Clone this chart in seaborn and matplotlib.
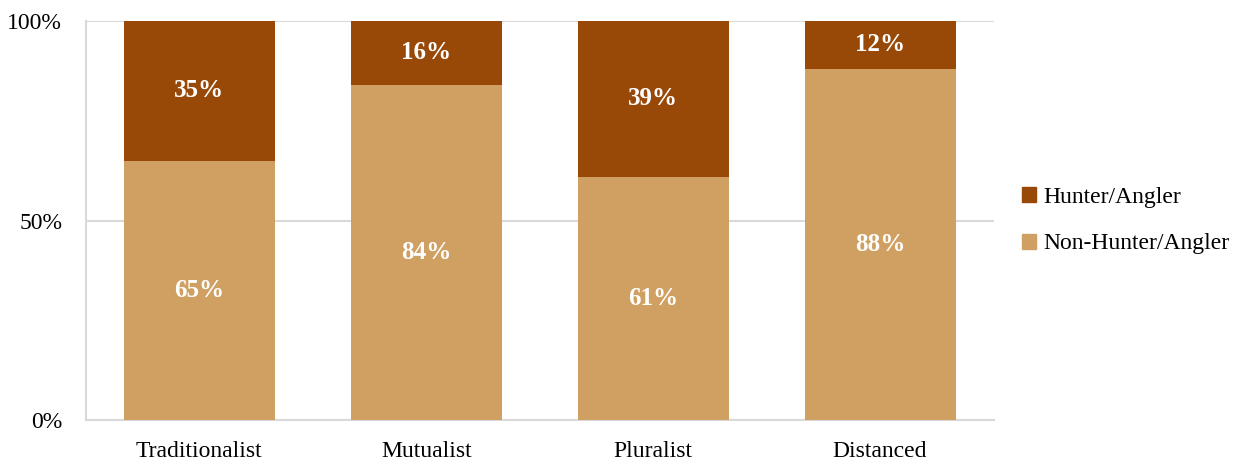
import pandas as pd
import seaborn as sns
from matplotlib import pyplot as plt
from matplotlib.patches import Patch

# chart values
groups = ['Traditionalist', 'Mutualist', 'Pluralist', 'Distanced']
hunter = [35, 16, 39, 12]
non_hunter = [65, 84, 61, 88]

dark = '#984807'
light = '#D09F62'
grid = '#D9D9D9'

df = pd.DataFrame({'group': groups, 'hunter': hunter, 'non_hunter': non_hunter})
df['total'] = df['hunter'] + df['non_hunter']

sns.set_style('white')
plt.rcParams['font.family'] = ['Liberation Serif', 'DejaVu Serif']
plt.rcParams['text.color'] = 'black'

fig = plt.figure(figsize=(12.45, 4.63), dpi=100)
ax = fig.add_axes([0.069, 0.0929, 0.729, 0.8617])

# stacked look: full bar in dark, non-hunter part over it in light
sns.barplot(data=df, x='group', y='total', color=dark, width=0.665,
            saturation=1, linewidth=0, ax=ax, zorder=2)
sns.barplot(data=df, x='group', y='non_hunter', color=light, width=0.665,
            saturation=1, linewidth=0, ax=ax, zorder=3)

# labels
for i, row in df.iterrows():
    ax.text(i, row['non_hunter'] / 2, f"{row['non_hunter']}%", ha='center', va='center',
            color='white', fontsize=18, fontweight='bold', zorder=4)
    ax.text(i, row['non_hunter'] + row['hunter'] / 2, f"{row['hunter']}%", ha='center',
            va='center', color='white', fontsize=18, fontweight='bold', zorder=4)

ax.set_xlim(-0.5, 3.5)
ax.set_ylim(0, 100)
ax.set_yticks([0, 50, 100])
ax.set_yticklabels(['0%', '50%', '100%'])
ax.yaxis.grid(True, color=grid, linewidth=1.5, zorder=0)
ax.set_axisbelow(True)
ax.set_xlabel('')
ax.set_ylabel('')
ax.tick_params(axis='both', length=0, labelsize=17, colors='black')
ax.tick_params(axis='y', pad=17)
ax.tick_params(axis='x', pad=15)

for s in ['top', 'right']:
    ax.spines[s].set_visible(False)
for s in ['left', 'bottom']:
    ax.spines[s].set_color(grid)
    ax.spines[s].set_linewidth(1.5)

handles = [Patch(color=dark, label='Hunter/Angler'),
           Patch(color=light, label='Non-Hunter/Angler')]
ax.legend(handles=handles, loc='center left', bbox_to_anchor=(1.008, 0.5), frameon=False,
          fontsize=17, handlelength=0.6, handleheight=0.6, handletextpad=0.3,
          labelspacing=1.1)

plt.savefig('out.png', dpi=100)
